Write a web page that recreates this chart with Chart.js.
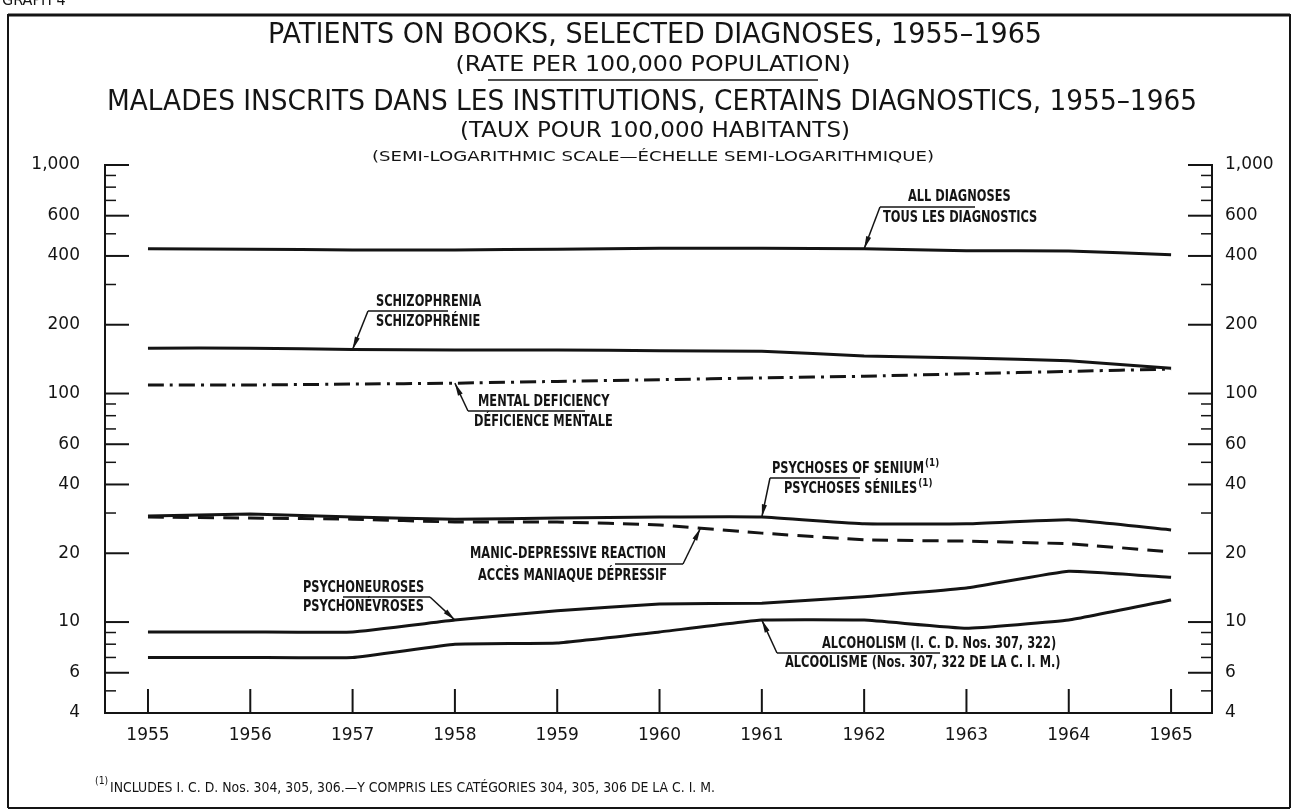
<!DOCTYPE html>
<html>
<head>
<meta charset="utf-8">
<script src="https://cdn.jsdelivr.net/npm/chart.js@4.4.1/dist/chart.umd.min.js"></script>
<style>
  html, body { margin: 0; padding: 0; background: #fff; }
  canvas { display: block; }
</style>
</head>
<body>
<canvas id="graph" width="1295" height="812"></canvas>
<script>
// データ (人口10万人当たり)
const years = [1955, 1956, 1957, 1958, 1959, 1960, 1961, 1962, 1963, 1964, 1965];
const allDiagnoses = [430, 428, 425, 425, 428, 432, 432, 430, 422, 420, 405];
const schizophrenia = [158, 158, 156, 155, 155, 154, 153, 146, 143, 139, 129];
const mentalDeficiency = [109, 109, 110, 111, 113, 115, 117, 119, 122, 125, 128];
const psychosesSenium = [29.1, 29.7, 28.8, 28.2, 28.5, 28.8, 28.8, 26.9, 26.9, 28.0, 25.3];
const manicDepressive = [28.8, 28.5, 28.2, 27.4, 27.4, 26.6, 24.5, 22.9, 22.6, 22.0, 20.3];
const psychoneuroses = [9.05, 9.05, 9.05, 10.2, 11.2, 12.0, 12.1, 12.9, 14.1, 16.7, 15.7];
const alcoholism = [7.0, 7.0, 7.0, 8.0, 8.1, 9.05, 10.2, 10.2, 9.4, 10.2, 12.5];

const majorTicks = [6, 10, 20, 40, 60, 100, 200, 400, 600, 1000];
const minorTicks = [5, 7, 8, 9, 30, 50, 70, 80, 90, 300, 500, 700, 800, 900];
const tickLabels = [4, 6, 10, 20, 40, 60, 100, 200, 400, 600, 1000];

const INK = '#141414';

/**
 * 横方向に圧縮して文字を描く
 */
const drawText = (ctx, str, x, y, font, opts = {}) => {
  ctx.save();
  ctx.font = font;
  ctx.fillStyle = INK;
  ctx.textBaseline = 'middle';
  const w = ctx.measureText(str).width;
  let sx = opts.sx || 1;
  if (opts.width) sx = opts.width / w;
  let x0 = x;
  if (opts.align === 'center') x0 = x - w * sx / 2;
  if (opts.align === 'right') x0 = x - w * sx;
  ctx.translate(x0, y);
  ctx.scale(sx, 1);
  ctx.textAlign = 'left';
  ctx.fillText(str, 0, 0);
  ctx.restore();
  return w * sx;
};

const line = (ctx, x1, y1, x2, y2, w) => {
  ctx.beginPath();
  ctx.lineWidth = w;
  ctx.moveTo(x1, y1);
  ctx.lineTo(x2, y2);
  ctx.stroke();
};

// 線上の位置 (年の途中でも可)
const pointOn = (chart, dsIndex, year) => {
  const pts = chart.getDatasetMeta(dsIndex).data;
  const i = Math.min(Math.floor(year - years[0]), years.length - 2);
  const t = year - years[i];
  return {
    x: pts[i].x + (pts[i + 1].x - pts[i].x) * t,
    y: pts[i].y + (pts[i + 1].y - pts[i].y) * t
  };
};

// 注記 (引き出し線と矢印)
const notes = [
  { ds: 0, at: 1962, elbow: [880, 207], ul: [880, 975],
    lines: [['ALL DIAGNOSES', 908, 197], ['TOUS LES DIAGNOSTICS', 883, 218]] },
  { ds: 1, at: 1957, elbow: [368, 311], ul: [368, 448],
    lines: [['SCHIZOPHRENIA', 376, 302], ['SCHIZOPHRÉNIE', 376, 322]] },
  { ds: 2, at: 1958, elbow: [468, 411], ul: [468, 585],
    lines: [['MENTAL DEFICIENCY', 478, 402], ['DÉFICIENCE MENTALE', 474, 422]] },
  { ds: 3, at: 1961, elbow: [770, 478], ul: [770, 860],
    lines: [['PSYCHOSES OF SENIUM', 772, 469, '(1)'], ['PSYCHOSES SÉNILES', 784, 489, '(1)']] },
  { ds: 4, at: 1960.4, elbow: [683, 564], ul: [615, 683],
    lines: [['MANIC–DEPRESSIVE REACTION', 470, 554], ['ACCÈS MANIAQUE DÉPRESSIF', 478, 576]] },
  { ds: 5, at: 1958, elbow: [430, 597], ul: [343, 430],
    lines: [['PSYCHONEUROSES', 303, 588], ['PSYCHONÉVROSES', 303, 607]] },
  { ds: 6, at: 1961, elbow: [777, 653], ul: [777, 940],
    lines: [['ALCOHOLISM (I. C. D. Nos. 307, 322)', 822, 644], ['ALCOOLISME (Nos. 307, 322 DE LA C. I. M.)', 785, 663]] }
];

const LABEL_FONT = 'bold 15px "DejaVu Sans"';
const NUM_FONT = '17px "DejaVu Sans"';

const framePlugin = {
  id: 'frame',
  beforeDraw(chart) {
    const { ctx } = chart;
    ctx.save();
    ctx.fillStyle = '#fff';
    ctx.fillRect(0, 0, chart.width, chart.height);
    ctx.restore();
  },
  afterDraw(chart) {
    const { ctx, chartArea } = chart;
    const sx = chart.scales.x;
    const sy = chart.scales.y;
    const { left, right, top, bottom } = chartArea;

    ctx.save();
    ctx.strokeStyle = INK;
    ctx.lineCap = 'butt';

    // 外枠
    drawText(ctx, 'GRAPH 4', 2, 1, '16px "DejaVu Sans"', { sx: 0.9 });
    line(ctx, 8, 15, 1290, 15, 3);
    line(ctx, 8, 14, 8, 808, 2);
    line(ctx, 1290, 14, 1290, 808, 2);
    line(ctx, 8, 808, 1290, 808, 2);

    // 軸
    line(ctx, left, top - 1, left, bottom + 1, 2);
    line(ctx, right, top - 1, right, bottom + 1, 2);
    line(ctx, left - 1, bottom, right + 1, bottom, 2);

    for (const v of majorTicks) {
      const py = sy.getPixelForValue(v);
      line(ctx, left, py, left + 24, py, 2);
      line(ctx, right - 24, py, right, py, 2);
    }
    for (const v of minorTicks) {
      const py = sy.getPixelForValue(v);
      line(ctx, left, py, left + 11, py, 1.5);
      line(ctx, right - 11, py, right, py, 1.5);
    }
    for (const v of tickLabels) {
      const py = sy.getPixelForValue(v);
      const txt = v.toLocaleString('en-US');
      drawText(ctx, txt, left - 25, py, NUM_FONT, { align: 'right' });
      drawText(ctx, txt, right + 13, py, NUM_FONT);
    }
    for (const yr of years) {
      const px = sx.getPixelForValue(yr);
      line(ctx, px, bottom, px, bottom - 24, 2);
      drawText(ctx, String(yr), px, bottom + 23, NUM_FONT, { align: 'center' });
    }

    // タイトル
    drawText(ctx, 'PATIENTS ON BOOKS, SELECTED DIAGNOSES, 1955–1965', 655, 36, '28px "DejaVu Sans"', { align: 'center', width: 774 });
    drawText(ctx, '(RATE PER 100,000 POPULATION)', 653, 65, '22px "DejaVu Sans"', { align: 'center', width: 395 });
    line(ctx, 488, 80, 818, 80, 1.5);
    drawText(ctx, 'MALADES INSCRITS DANS LES INSTITUTIONS, CERTAINS DIAGNOSTICS, 1955–1965', 652, 103, '28px "DejaVu Sans"', { align: 'center', width: 1090 });
    drawText(ctx, '(TAUX POUR 100,000 HABITANTS)', 655, 131, '22px "DejaVu Sans"', { align: 'center', width: 390 });
    drawText(ctx, '(SEMI-LOGARITHMIC SCALE—ÉCHELLE SEMI-LOGARITHMIQUE)', 653, 157, '14px "DejaVu Sans"', { align: 'center', width: 562 });

    // 注記
    for (const n of notes) {
      const tip = pointOn(chart, n.ds, n.at);
      const [ex, ey] = n.elbow;
      line(ctx, n.ul[0], ey, n.ul[1], ey, 1.5);
      line(ctx, ex, ey, tip.x, tip.y, 1.5);
      const ang = Math.atan2(tip.y - ey, tip.x - ex);
      ctx.beginPath();
      ctx.fillStyle = INK;
      ctx.moveTo(tip.x, tip.y);
      ctx.lineTo(tip.x - 13 * Math.cos(ang - 0.2), tip.y - 13 * Math.sin(ang - 0.2));
      ctx.lineTo(tip.x - 13 * Math.cos(ang + 0.2), tip.y - 13 * Math.sin(ang + 0.2));
      ctx.closePath();
      ctx.fill();
      for (const [str, tx, ty, sup] of n.lines) {
        const w = drawText(ctx, str, tx, ty, LABEL_FONT, { sx: 0.76 });
        if (sup) drawText(ctx, sup, tx + w + 1, ty - 6, 'bold 11px "DejaVu Sans"', { sx: 0.8 });
      }
    }

    // 脚注
    drawText(ctx, '(1)', 95, 781, '11px "DejaVu Sans"', { sx: 0.85 });
    drawText(ctx, 'INCLUDES I. C. D. Nos. 304, 305, 306.—Y COMPRIS LES CATÉGORIES 304, 305, 306 DE LA C. I. M.', 110, 788, '14px "DejaVu Sans"', { width: 605 });
    ctx.restore();
  }
};

const toPoints = (values) => values.map((v, i) => ({ x: years[i], y: v }));

const series = [
  { label: 'All diagnoses', data: allDiagnoses, dash: [] },
  { label: 'Schizophrenia', data: schizophrenia, dash: [] },
  { label: 'Mental deficiency', data: mentalDeficiency, dash: [16, 6, 3, 6] },
  { label: 'Psychoses of senium', data: psychosesSenium, dash: [] },
  { label: 'Manic-depressive reaction', data: manicDepressive, dash: [16, 9] },
  { label: 'Psychoneuroses', data: psychoneuroses, dash: [] },
  { label: 'Alcoholism', data: alcoholism, dash: [] }
];

document.addEventListener('DOMContentLoaded', function() {
  const ctx = document.getElementById('graph').getContext('2d');
  new Chart(ctx, {
    type: 'line',
    data: {
      datasets: series.map(s => ({
        label: s.label,
        data: toPoints(s.data),
        borderColor: INK,
        borderWidth: 3,
        borderDash: s.dash,
        pointRadius: 0,
        tension: 0.1,
        fill: false
      }))
    },
    options: {
      responsive: false,
      animation: false,
      layout: { padding: { left: 105, right: 83, top: 165, bottom: 99 } },
      plugins: { legend: { display: false }, tooltip: { enabled: false } },
      scales: {
        x: { type: 'linear', min: 1954.58, max: 1965.4, display: false },
        y: { type: 'logarithmic', min: 4, max: 1000, display: false }
      }
    },
    plugins: [framePlugin]
  });
});
</script>
</body>
</html>
